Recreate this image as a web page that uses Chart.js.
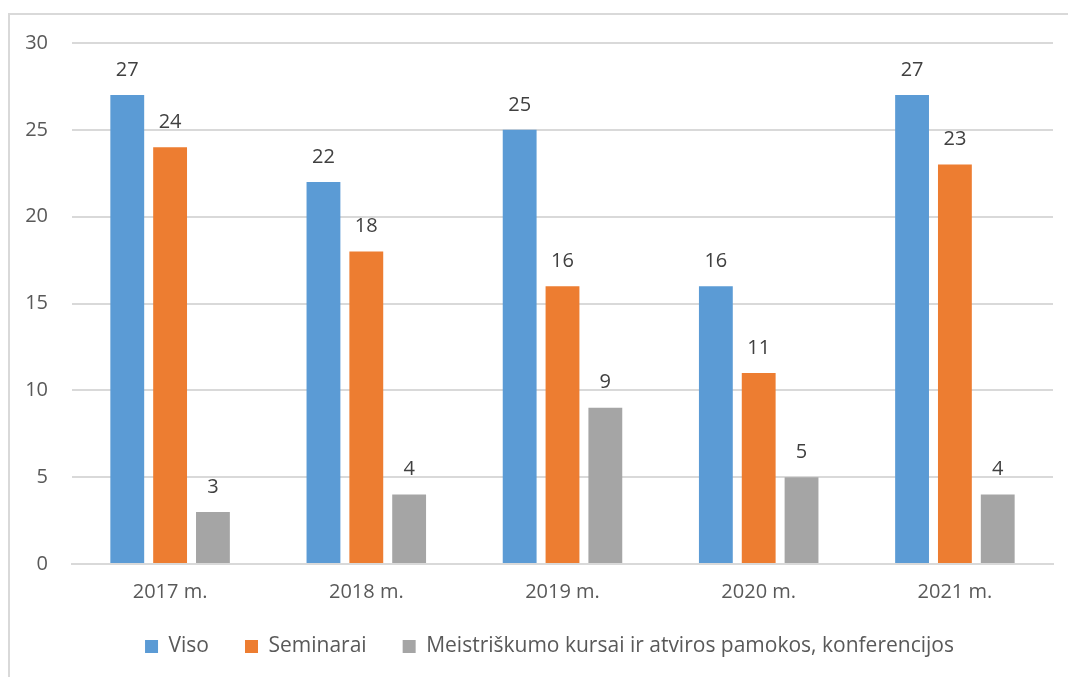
<!DOCTYPE html>
<html>
<head>
<meta charset="utf-8">
<script src="https://cdn.jsdelivr.net/npm/chart.js@4"></script>
<style>
  html, body { margin: 0; padding: 0; background: #fff; }
  #wrap { position: relative; width: 1068px; height: 677px; }
  #frame { position: absolute; left: 8px; top: 13px; right: -4px; bottom: -4px; border: 2px solid #d9d9d9; }
  canvas { position: absolute; left: 0; top: 0; }
</style>
</head>
<body>
<div id="wrap">
  <div id="frame"></div>
  <canvas id="myChart" width="1068" height="677"></canvas>
</div>
<script>
const years = ['2017 m.', '2018 m.', '2019 m.', '2020 m.', '2021 m.'];
const viso = [27, 22, 25, 16, 27];
const seminarai = [24, 18, 16, 11, 23];
const meistriskumo = [3, 4, 9, 5, 4];
const seriesNames = ['Viso', 'Seminarai', 'Meistriškumo kursai ir atviros pamokos, konferencijos'];

const fontName = "'Open Sans', 'Noto Sans', sans-serif";

// labels above the bars
const valueLabels = {
  id: 'valueLabels',
  afterDatasetsDraw(chart) {
    const ctx = chart.ctx;
    ctx.save();
    ctx.font = '20px ' + fontName;
    ctx.fillStyle = '#404040';
    ctx.textAlign = 'center';
    ctx.textBaseline = 'middle';
    chart.data.datasets.forEach((ds, i) => {
      chart.getDatasetMeta(i).data.forEach((bar, j) => {
        ctx.fillText(ds.data[j], bar.x, bar.y - 25);
      });
    });
    ctx.restore();
  }
};

// legend sits a bit right of centre in the original
const legendShift = {
  id: 'legendShift',
  afterLayout(chart) {
    chart.legend.left += 23;
    chart.legend.right += 23;
  }
};

var ctx = document.getElementById('myChart').getContext('2d');
var myChart = new Chart(ctx, {
  type: 'bar',
  data: {
    labels: years,
    datasets: [{
      label: seriesNames[0],
      data: viso,
      backgroundColor: '#5b9bd5'
    },
    {
      label: seriesNames[1],
      data: seminarai,
      backgroundColor: '#ed7d31'
    },
    {
      label: seriesNames[2],
      data: meistriskumo,
      backgroundColor: '#a5a5a5'
    }]
  },
  options: {
    responsive: false,
    animation: false,
    categoryPercentage: 0.655,
    barPercentage: 0.79,
    layout: { padding: { left: 0, right: 15, top: 43, bottom: 10 } },
    plugins: {
      legend: {
        position: 'bottom',
        labels: {
          boxWidth: 13,
          boxHeight: 13,
          padding: 36,
          color: '#595959',
          font: { family: fontName, size: 21 }
        }
      },
      tooltip: { enabled: false }
    },
    scales: {
      x: {
        grid: { display: false, drawTicks: false },
        border: { color: '#d9d9d9', width: 2 },
        ticks: { color: '#595959', padding: 16, font: { family: fontName, size: 20 } },
        afterFit(scale) { scale.height = 36; }
      },
      y: {
        min: 0,
        max: 30,
        ticks: { stepSize: 5, color: '#595959', padding: 24, font: { family: fontName, size: 20 } },
        grid: { color: '#d9d9d9', lineWidth: 2, drawTicks: false },
        border: { display: false },
        afterFit(scale) { scale.width = 72; }
      }
    }
  },
  plugins: [valueLabels, legendShift]
});
</script>
</body>
</html>
